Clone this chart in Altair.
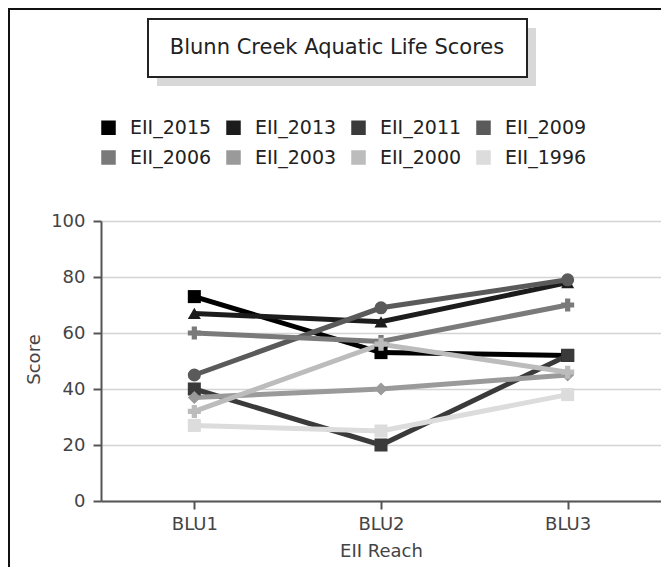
import altair as alt
import pandas as pd

title_text = "Blunn Creek Aquatic Life Scores"
reaches = ["BLU1", "BLU2", "BLU3"]
series = ["EII_2015", "EII_2013", "EII_2011", "EII_2009",
          "EII_2006", "EII_2003", "EII_2000", "EII_1996"]
eii_2015 = [73, 53, 52]
eii_2013 = [67, 64, 78]
eii_2011 = [40, 20, 52]
eii_2009 = [45, 69, 79]
eii_2006 = [60, 57, 70]
eii_2003 = [37, 40, 45]
eii_2000 = [32, 56, 46]
eii_1996 = [27, 25, 38]
y_ticks = [0, 20, 40, 60, 80, 100]

colors = ["#000000", "#1c1c1c", "#3a3a3a", "#5a5a5a",
          "#7a7a7a", "#9a9a9a", "#bcbcbc", "#dcdcdc"]
shapes = ["square", "triangle-up", "square", "circle",
          "cross", "diamond", "cross", "square"]

all_vals = [eii_2015, eii_2013, eii_2011, eii_2009,
            eii_2006, eii_2003, eii_2000, eii_1996]
rows = []
for s, sh, vals in zip(series, shapes, all_vals):
    for r, v in zip(reaches, vals):
        rows.append({"series": s, "marker": sh, "reach": r, "score": v})
df = pd.DataFrame(rows)
marker_types = list(dict.fromkeys(shapes))

FONT = "DejaVu Sans"

x_enc = alt.X("reach:N", sort=reaches,
              scale=alt.Scale(type="point", padding=0.5),
              axis=alt.Axis(title="EII Reach", labelAngle=0, grid=False,
                            labelPadding=6, titleY=50, titleBaseline="middle"))
y_enc = alt.Y("score:Q", scale=alt.Scale(domain=[0, 100], nice=False),
              axis=alt.Axis(title="Score", values=y_ticks, grid=True,
                            labelPadding=8, titleX=-67, titleY=138,
                            titleAlign="center", titleBaseline="middle"))

color_scale = alt.Scale(domain=series, range=colors)
legend = alt.Legend(title=None, orient="none", legendX=-2, legendY=-103,
                    direction="horizontal", columns=4,
                    symbolType="square", symbolSize=169,
                    labelFontSize=19, labelFont=FONT, labelColor="#222",
                    columnPadding=12, rowPadding=10, labelOffset=12,
                    padding=0, symbolStrokeColor="#333",
                    symbolStrokeWidth=1.5, symbolOpacity=1)

lines = alt.Chart(df).mark_line(strokeWidth=5).encode(
    x=x_enc, y=y_enc,
    color=alt.Color("series:N", scale=color_scale, legend=legend),
)

points = alt.Chart(df).mark_point(filled=True, size=170, opacity=1).encode(
    x=x_enc, y=y_enc,
    color=alt.Color("series:N", scale=color_scale, legend=legend),
    shape=alt.Shape("marker:N",
                    scale=alt.Scale(domain=marker_types, range=marker_types),
                    legend=None),
)

one = pd.DataFrame({"t": [title_text]})

left_border = alt.Chart(one).mark_rule(color="#111", strokeWidth=2).encode(
    x=alt.value(-92), y=alt.value(-213), y2=alt.value(360))
top_border = alt.Chart(one).mark_rule(color="#111", strokeWidth=2).encode(
    x=alt.value(-93), x2=alt.value(560), y=alt.value(-212))

shadow = alt.Chart(one).mark_rect(fill="#d8d8d8").encode(
    x=alt.value(56), x2=alt.value(435), y=alt.value(-193), y2=alt.value(-135))

box = alt.Chart(one).mark_rect(fill="white", stroke="#222",
                               strokeWidth=2).encode(
    x=alt.value(47), x2=alt.value(426), y=alt.value(-202), y2=alt.value(-144))

title = alt.Chart(one).mark_text(font=FONT, fontSize=21, color="#222",
                                 align="center", baseline="middle").encode(
    text="t:N", x=alt.value(236), y=alt.value(-173))

chart = alt.layer(left_border, top_border, shadow, box, title,
                  lines, points).properties(
    width=560, height=280,
    autosize=alt.AutoSizeParams(type="none"),
    padding={"left": 93, "top": 213, "right": 0, "bottom": 66},
    background="white",
).configure_view(stroke=None).configure_axis(
    labelFont=FONT, titleFont=FONT, labelFontSize=18, titleFontSize=18,
    titleFontWeight="normal", labelColor="#444", titleColor="#444",
    domainColor="#555", domainWidth=2, tickColor="#555", tickWidth=2,
    tickSize=8, gridColor="#d4d4d4", gridWidth=1.5,
)

chart.save("out.html", embed_options={"renderer": "svg", "actions": False})
